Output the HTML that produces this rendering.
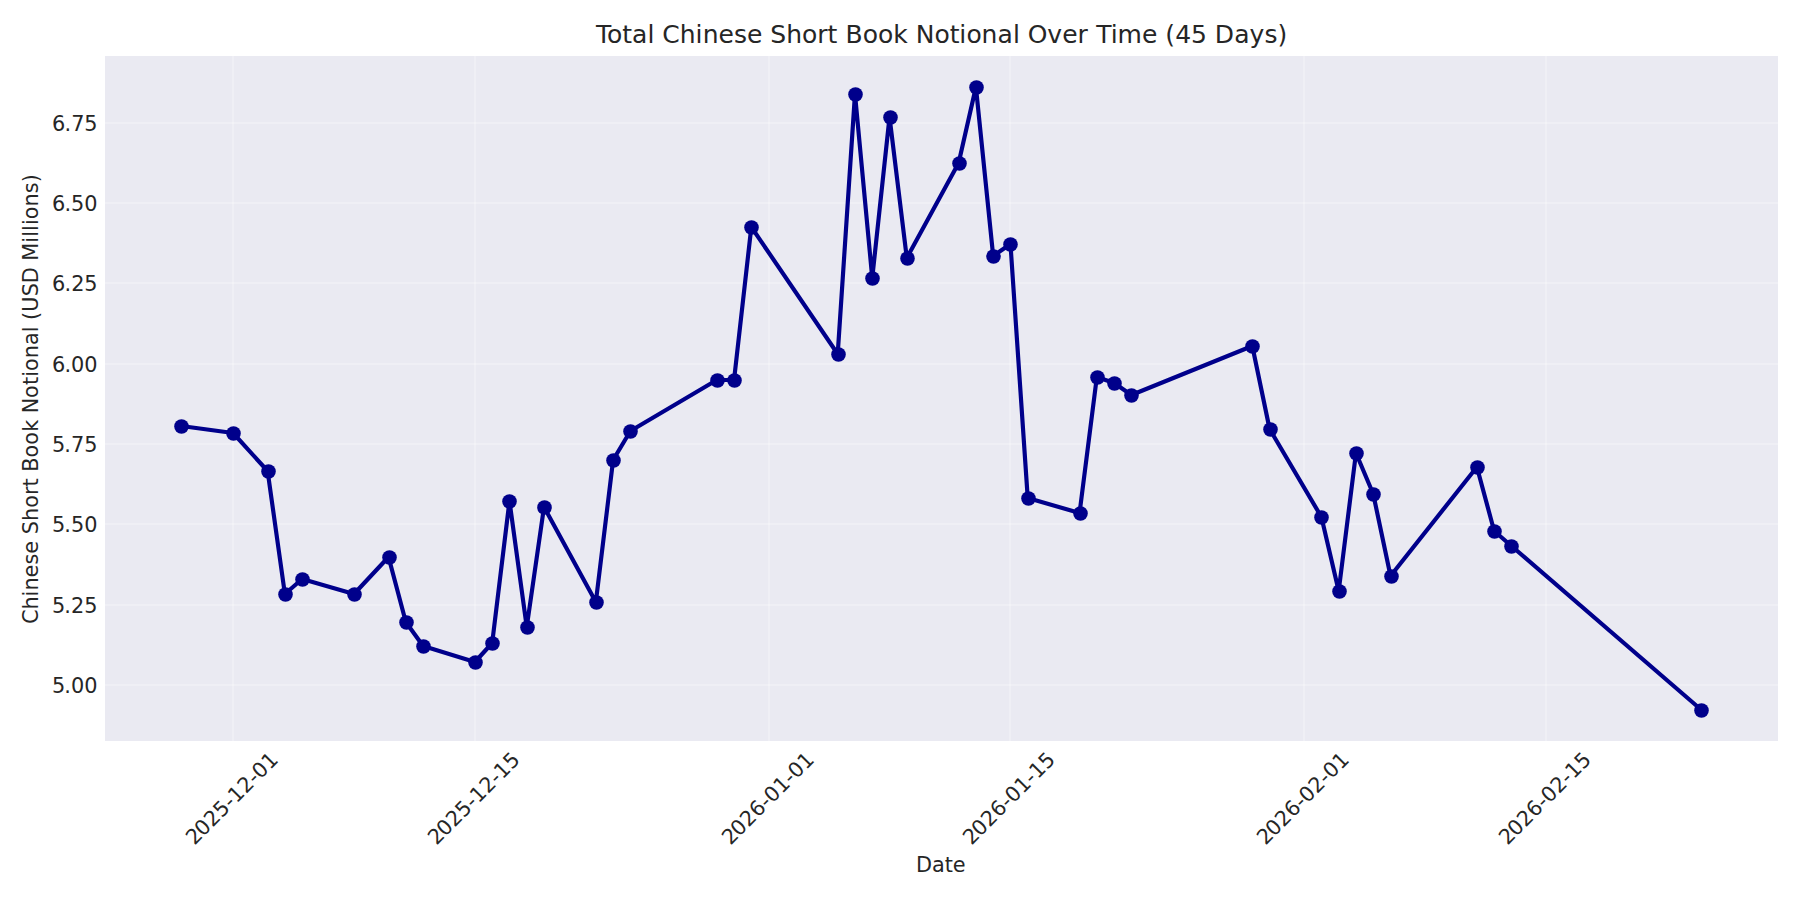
<!DOCTYPE html>
<html lang="en">
<head>
<meta charset="utf-8">
<title>Total Chinese Short Book Notional Over Time (45 Days)</title>
<style>
html,body{margin:0;padding:0;background:#fff;}
body{width:1800px;height:900px;overflow:hidden;}
svg{display:block;}
text{font-family:'DejaVu Sans','Liberation Sans',sans-serif;fill:#262626;}
.t10{font-size:20.833px;}
.t12{font-size:25px;}
</style>
</head>
<body>
<svg width="1800" height="900" viewBox="0 0 1800 900">
<rect x="0" y="0" width="1800" height="900" fill="#ffffff"/>
<rect x="105" y="56" width="1673" height="685" fill="#eaeaf2"/>
<g fill="#ffffff" fill-opacity="0.24" shape-rendering="crispEdges">
<rect x="232" y="56" width="2" height="685"/>
<rect x="474" y="56" width="2" height="685"/>
<rect x="768" y="56" width="2" height="685"/>
<rect x="1009" y="56" width="2" height="685"/>
<rect x="1303" y="56" width="2" height="685"/>
<rect x="1545" y="56" width="2" height="685"/>
<rect x="105" y="122" width="1673" height="2"/>
<rect x="105" y="202" width="1673" height="2"/>
<rect x="105" y="282" width="1673" height="2"/>
<rect x="105" y="363" width="1673" height="2"/>
<rect x="105" y="443" width="1673" height="2"/>
<rect x="105" y="523" width="1673" height="2"/>
<rect x="105" y="604" width="1673" height="2"/>
<rect x="105" y="684" width="1673" height="2"/>
</g>
<polyline fill="none" stroke="#00008b" stroke-width="4.167" stroke-linejoin="round" stroke-linecap="round" points="181.23,426.00 233.06,433.00 267.61,471.00 284.89,594.00 302.16,579.00 353.99,594.00 388.54,557.00 405.81,622.00 423.09,646.00 474.92,662.00 492.19,643.00 509.47,501.00 526.74,627.00 544.02,507.00 595.85,602.00 613.12,460.00 630.40,431.00 716.77,380.00 734.05,380.00 751.33,227.00 837.70,354.00 854.98,94.00 872.25,278.00 889.53,117.00 906.80,258.00 958.63,163.00 975.91,87.00 993.18,256.00 1010.46,244.00 1027.73,498.00 1079.56,513.00 1096.84,377.00 1114.11,383.00 1131.39,395.00 1252.31,346.00 1269.59,429.00 1321.42,517.00 1338.69,591.00 1355.97,453.00 1373.24,494.00 1390.52,576.00 1476.90,467.00 1494.17,531.00 1511.45,546.00 1701.48,710.00"/>
<g fill="#00008b">
<circle cx="181.50" cy="426.50" r="7.29"/>
<circle cx="233.50" cy="433.50" r="7.29"/>
<circle cx="268.50" cy="471.50" r="7.29"/>
<circle cx="285.50" cy="594.50" r="7.29"/>
<circle cx="302.50" cy="579.50" r="7.29"/>
<circle cx="354.50" cy="594.50" r="7.29"/>
<circle cx="389.50" cy="557.50" r="7.29"/>
<circle cx="406.50" cy="622.50" r="7.29"/>
<circle cx="423.50" cy="646.50" r="7.29"/>
<circle cx="475.50" cy="662.50" r="7.29"/>
<circle cx="492.50" cy="643.50" r="7.29"/>
<circle cx="509.50" cy="501.50" r="7.29"/>
<circle cx="527.50" cy="627.50" r="7.29"/>
<circle cx="544.50" cy="507.50" r="7.29"/>
<circle cx="596.50" cy="602.50" r="7.29"/>
<circle cx="613.50" cy="460.50" r="7.29"/>
<circle cx="630.50" cy="431.50" r="7.29"/>
<circle cx="717.50" cy="380.50" r="7.29"/>
<circle cx="734.50" cy="380.50" r="7.29"/>
<circle cx="751.50" cy="227.50" r="7.29"/>
<circle cx="838.50" cy="354.50" r="7.29"/>
<circle cx="855.50" cy="94.50" r="7.29"/>
<circle cx="872.50" cy="278.50" r="7.29"/>
<circle cx="890.50" cy="117.50" r="7.29"/>
<circle cx="907.50" cy="258.50" r="7.29"/>
<circle cx="959.50" cy="163.50" r="7.29"/>
<circle cx="976.50" cy="87.50" r="7.29"/>
<circle cx="993.50" cy="256.50" r="7.29"/>
<circle cx="1010.50" cy="244.50" r="7.29"/>
<circle cx="1028.50" cy="498.50" r="7.29"/>
<circle cx="1080.50" cy="513.50" r="7.29"/>
<circle cx="1097.50" cy="377.50" r="7.29"/>
<circle cx="1114.50" cy="383.50" r="7.29"/>
<circle cx="1131.50" cy="395.50" r="7.29"/>
<circle cx="1252.50" cy="346.50" r="7.29"/>
<circle cx="1270.50" cy="429.50" r="7.29"/>
<circle cx="1321.50" cy="517.50" r="7.29"/>
<circle cx="1339.50" cy="591.50" r="7.29"/>
<circle cx="1356.50" cy="453.50" r="7.29"/>
<circle cx="1373.50" cy="494.50" r="7.29"/>
<circle cx="1391.50" cy="576.50" r="7.29"/>
<circle cx="1477.50" cy="467.50" r="7.29"/>
<circle cx="1494.50" cy="531.50" r="7.29"/>
<circle cx="1511.50" cy="546.50" r="7.29"/>
<circle cx="1701.50" cy="710.50" r="7.29"/>
</g>
<text class="t12" transform="translate(596,49)" x="0.05 11.12 26.36 36.06 51.39 58.33 66.33 83.78 99.62 106.68 122.42 137.95 150.98 166.35 174.36 190.27 206.11 221.26 231.59 241.38 249.44 266.79 281.89 297.17 311.66 319.86 338.5 353.69 363.36 370.44 385.59 401.58 416.91 423.85 431.8 451.32 466.22 481.55 491.83 500.18 514.73 521.62 546.03 561.4 569.26 579.16 595.11 611.02 618.87 638.17 653.53 668.38 681.46" y="-6">Total Chinese Short Book Notional Over Time (45 Days)</text>
<text class="t10" transform="translate(53,132)" x="-0.95 11.38 18.16 31.34" y="-1">6.75</text>
<text class="t10" transform="translate(53,212)" x="-0.95 11.38 18.08 31.31" y="-1">6.50</text>
<text class="t10" transform="translate(53,292)" x="-0.95 11.38 18.21 31.34" y="-1">6.25</text>
<text class="t10" transform="translate(53,373)" x="-0.95 11.38 18.05 31.31" y="-1">6.00</text>
<text class="t10" transform="translate(53,453)" x="-1.03 11.26 18.03 31.21" y="-1">5.75</text>
<text class="t10" transform="translate(53,533)" x="-1.03 11.26 17.95 31.18" y="-1">5.50</text>
<text class="t10" transform="translate(53,614)" x="-1.03 11.26 18.08 31.21" y="-1">5.25</text>
<text class="t10" transform="translate(53,694)" x="-1.03 11.26 17.92 31.18" y="-1">5.00</text>
<text class="t10" transform="translate(195.80,845.80) rotate(-45)" x="-0.9 11.19 24.61 37.73 51 58.57 71.87 85.02 92.47 105.84" y="-1">2025-12-01</text>
<text class="t10" transform="translate(437.80,845.80) rotate(-45)" x="-0.9 11.19 24.61 37.73 51 58.57 71.87 85.02 92.58 105.76" y="-1">2025-12-15</text>
<text class="t10" transform="translate(731.80,845.80) rotate(-45)" x="-0.9 11.19 24.61 37.8 51.11 58.59 71.95 85.13 92.6 105.96" y="-1">2026-01-01</text>
<text class="t10" transform="translate(972.80,845.80) rotate(-45)" x="-0.9 11.19 24.61 37.8 51.11 58.59 71.95 85.13 92.7 105.87" y="-1">2026-01-15</text>
<text class="t10" transform="translate(1266.80,845.80) rotate(-45)" x="-0.9 11.19 24.61 37.8 51.11 58.59 71.99 85.13 92.6 105.96" y="-1">2026-02-01</text>
<text class="t10" transform="translate(1508.80,845.80) rotate(-45)" x="-0.9 11.19 24.61 37.8 51.11 58.59 71.99 85.13 92.7 105.87" y="-1">2026-02-15</text>
<text class="t10" transform="translate(918,873)" x="-1.94 14.01 26.77 34.81" y="-1">Date</text>
<text class="t10" transform="translate(42,624) rotate(-90)" x="-0.05 14.48 27.63 33.47 46.62 59.48 70.29 83.1 89.88 103.1 116.25 128.98 137.6 145.77 152.39 166.53 179.38 192.16 204.22 210.75 226.12 238.97 247.23 253.08 265.76 278.92 291.68 297.46 304.14 312.36 327.66 340.83 356.86 363.39 381.36 387.24 393.08 398.92 404.85 417.6 430.7 441.79" y="-4">Chinese Short Book Notional (USD Millions)</text>
</svg>
</body>
</html>
